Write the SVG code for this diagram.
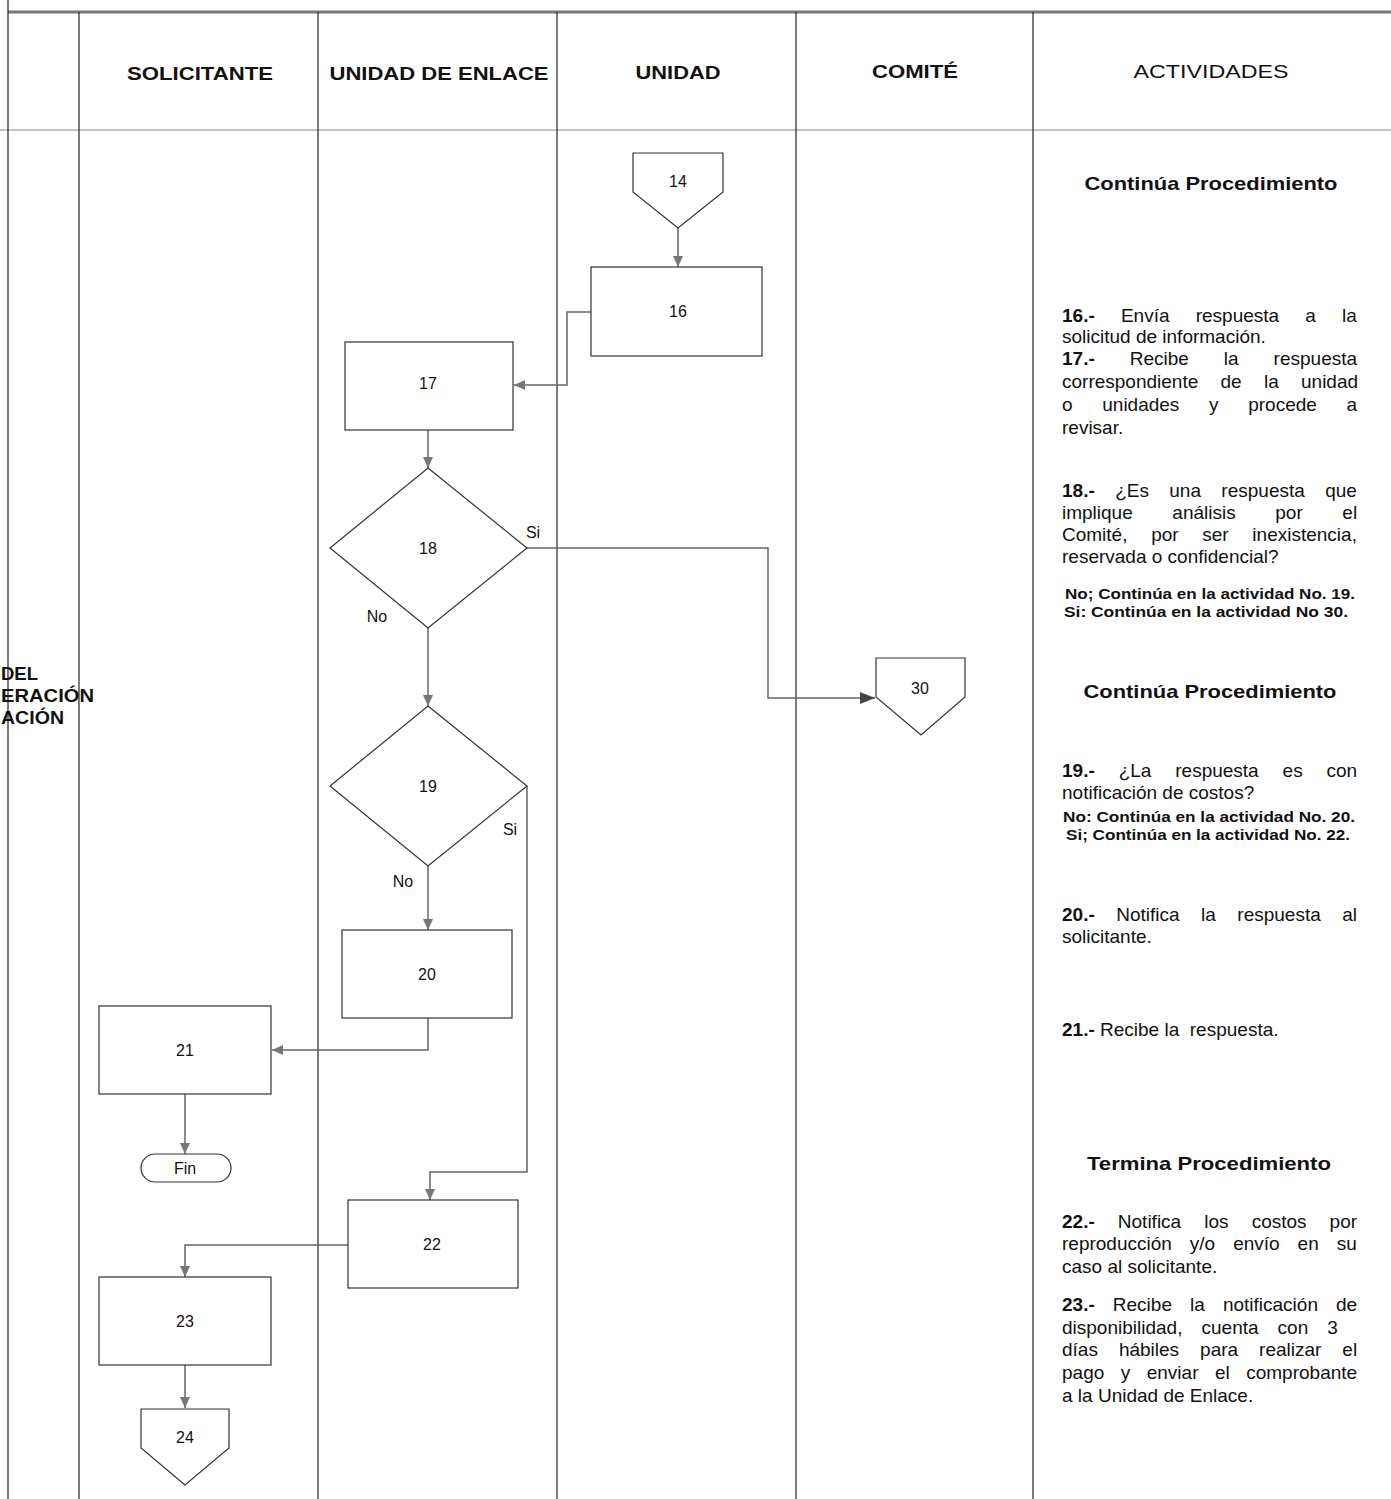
<svg xmlns="http://www.w3.org/2000/svg" width="1391" height="1499" viewBox="0 0 1391 1499">
<defs>
<style>
.lane{stroke:#222;stroke-width:1.2;fill:none}
.box{fill:#fff;stroke:#333;stroke-width:1.2}
.conn{fill:none;stroke:#666;stroke-width:1.5}
.t{font-family:"Liberation Sans",Arial,sans-serif;fill:#111}
.hdr{font-size:18px;font-weight:bold;text-anchor:middle}
.lbl{font-size:16px;text-anchor:middle}
.act{font-size:19px}
.b{font-weight:bold}
.note{font-size:14.5px;font-weight:bold;text-anchor:middle}
.ttl{font-size:19px;font-weight:bold;text-anchor:middle}
</style>
<marker id="arr" markerUnits="userSpaceOnUse" markerWidth="12" markerHeight="10" refX="11" refY="5" orient="auto">
<path d="M0,0 L11,5 L0,10 z" fill="#777"/>
</marker>
<marker id="arrD" markerUnits="userSpaceOnUse" markerWidth="16" markerHeight="12" refX="15" refY="6" orient="auto">
<path d="M0,0 L15,6 L0,12 z" fill="#444"/>
</marker>
</defs>
<rect width="1391" height="1499" fill="#fff"/>

<g id="grid">
<line x1="8" y1="12" x2="1391" y2="12" stroke="#777" stroke-width="3"/>
<line x1="0" y1="130" x2="1391" y2="130" stroke="#888" stroke-width="1.2"/>
<line class="lane" x1="8" y1="0" x2="8" y2="1499" stroke="#555"/>
<line class="lane" x1="79" y1="12" x2="79" y2="1499"/>
<line class="lane" x1="318" y1="12" x2="318" y2="1499"/>
<line class="lane" x1="557" y1="12" x2="557" y2="1499"/>
<line class="lane" x1="796" y1="12" x2="796" y2="1499"/>
<line class="lane" x1="1033" y1="12" x2="1033" y2="1499"/>
</g>

<g id="headers">
<text class="t hdr" x="200" y="80" textLength="146" lengthAdjust="spacingAndGlyphs">SOLICITANTE</text>
<text class="t hdr" x="439" y="80" textLength="219" lengthAdjust="spacingAndGlyphs">UNIDAD DE ENLACE</text>
<text class="t hdr" x="678" y="79" textLength="85" lengthAdjust="spacingAndGlyphs">UNIDAD</text>
<text class="t hdr" x="915" y="78" textLength="86" lengthAdjust="spacingAndGlyphs">COMITÉ</text>
<text class="t hdr" x="1211" y="78" style="font-weight:normal" textLength="155" lengthAdjust="spacingAndGlyphs">ACTIVIDADES</text>
</g>

<g id="side-text">
<text class="t b" x="1" y="680" font-size="18" textLength="37" lengthAdjust="spacingAndGlyphs">DEL</text>
<text class="t b" x="1" y="702" font-size="18" textLength="93" lengthAdjust="spacingAndGlyphs">ERACIÓN</text>
<text class="t b" x="1" y="724" font-size="18" textLength="63" lengthAdjust="spacingAndGlyphs">ACIÓN</text>
</g>

<g id="connectors">
<line class="conn" x1="678" y1="228" x2="678" y2="267" marker-end="url(#arr)"/>
<polyline class="conn" points="591,312 567,312 567,385 514,385" marker-end="url(#arr)"/>
<line class="conn" x1="428" y1="430" x2="428" y2="468" marker-end="url(#arr)"/>
<polyline class="conn" points="527,548 768,548 768,698 875,698" marker-end="url(#arrD)"/>
<line class="conn" x1="428" y1="628" x2="428" y2="706" marker-end="url(#arr)"/>
<polyline class="conn" points="527,786 527,1172 430,1172 430,1200" marker-end="url(#arr)"/>
<line class="conn" x1="428" y1="866" x2="428" y2="930" marker-end="url(#arr)"/>
<polyline class="conn" points="428,1018 428,1050 272,1050" marker-end="url(#arr)"/>
<line class="conn" x1="185" y1="1094" x2="185" y2="1154" marker-end="url(#arr)"/>
<polyline class="conn" points="348,1245 185,1245 185,1277" marker-end="url(#arr)"/>
<line class="conn" x1="185" y1="1365" x2="185" y2="1408" marker-end="url(#arr)"/>
<text class="t lbl" x="533" y="538">Si</text>
<text class="t lbl" x="377" y="622">No</text>
<text class="t lbl" x="510" y="835">Si</text>
<text class="t lbl" x="403" y="887">No</text>
</g>

<g id="n14">
<polygon class="box" points="633,153 723,153 723,192 678,228 633,192"/>
<text class="t lbl" x="678" y="187">14</text>
</g>
<g id="n16">
<rect class="box" x="591" y="267" width="171" height="89"/>
<text class="t lbl" x="678" y="317">16</text>
</g>
<g id="n17">
<rect class="box" x="345" y="342" width="168" height="88"/>
<text class="t lbl" x="428" y="389">17</text>
</g>
<g id="n18">
<polygon class="box" points="428,468 527,548 428,628 330,548"/>
<text class="t lbl" x="428" y="554">18</text>
</g>
<g id="n30">
<polygon class="box" points="876,658 965,658 965,697 921,735 876,697"/>
<text class="t lbl" x="920" y="694">30</text>
</g>
<g id="n19">
<polygon class="box" points="428,706 527,786 428,866 330,786"/>
<text class="t lbl" x="428" y="792">19</text>
</g>
<g id="n20">
<rect class="box" x="342" y="930" width="170" height="88"/>
<text class="t lbl" x="427" y="980">20</text>
</g>
<g id="n21">
<rect class="box" x="99" y="1006" width="172" height="88"/>
<text class="t lbl" x="185" y="1056">21</text>
</g>
<g id="fin">
<rect class="box" x="141" y="1154" width="90" height="28" rx="14"/>
<text class="t lbl" x="185" y="1174">Fin</text>
</g>
<g id="n22">
<rect class="box" x="348" y="1200" width="170" height="88"/>
<text class="t lbl" x="432" y="1250">22</text>
</g>
<g id="n23">
<rect class="box" x="99" y="1277" width="172" height="88"/>
<text class="t lbl" x="185" y="1327">23</text>
</g>
<g id="n24">
<polygon class="box" points="141,1409 229,1409 229,1448 185,1485 141,1448"/>
<text class="t lbl" x="185" y="1443">24</text>
</g>

<g id="activities">
<text class="t ttl" x="1211" y="190" textLength="253" lengthAdjust="spacingAndGlyphs">Continúa Procedimiento</text>
<text class="t act" x="1062" y="322" word-spacing="20.9"><tspan class="b">16.-</tspan> Envía respuesta a la</text>
<text class="t act" x="1062" y="343">solicitud de información.</text>
<text class="t act" x="1062" y="365" word-spacing="29.7"><tspan class="b">17.-</tspan> Recibe la respuesta</text>
<text class="t act" x="1062" y="388" word-spacing="17.0">correspondiente de la unidad</text>
<text class="t act" x="1062" y="411" word-spacing="24.4">o unidades y procede a</text>
<text class="t act" x="1062" y="434">revisar.</text>
<text class="t act" x="1062" y="497" word-spacing="15.1"><tspan class="b">18.-</tspan> ¿Es una respuesta que</text>
<text class="t act" x="1062" y="519" word-spacing="34.3">implique análisis por el</text>
<text class="t act" x="1062" y="541" word-spacing="18.4">Comité, por ser inexistencia,</text>
<text class="t act" x="1062" y="563">reservada o confidencial?</text>
<text class="t note" x="1210" y="599" textLength="290" lengthAdjust="spacingAndGlyphs">No; Continúa en la actividad No. 19.</text>
<text class="t note" x="1206" y="617" textLength="284" lengthAdjust="spacingAndGlyphs">Si: Continúa en la actividad No 30.</text>
<text class="t ttl" x="1210" y="698" textLength="253" lengthAdjust="spacingAndGlyphs">Continúa Procedimiento</text>
<text class="t act" x="1062" y="777" word-spacing="18.6"><tspan class="b">19.-</tspan> ¿La respuesta es con</text>
<text class="t act" x="1062" y="799">notificación de costos?</text>
<text class="t note" x="1209" y="822" textLength="292" lengthAdjust="spacingAndGlyphs">No: Continúa en la actividad No. 20.</text>
<text class="t note" x="1208" y="840" textLength="284" lengthAdjust="spacingAndGlyphs">Si; Continúa en la actividad No. 22.</text>
<text class="t act" x="1062" y="921" word-spacing="16.2"><tspan class="b">20.-</tspan> Notifica la respuesta al</text>
<text class="t act" x="1062" y="943">solicitante.</text>
<text class="t act" x="1062" y="1036" xml:space="preserve"><tspan class="b">21.-</tspan> Recibe la  respuesta.</text>
<text class="t ttl" x="1209" y="1170" textLength="244" lengthAdjust="spacingAndGlyphs">Termina Procedimiento</text>
<text class="t act" x="1062" y="1228" word-spacing="17.8"><tspan class="b">22.-</tspan> Notifica los costos por</text>
<text class="t act" x="1062" y="1250" word-spacing="12.7">reproducción y/o envío en su</text>
<text class="t act" x="1062" y="1273">caso al solicitante.</text>
<text class="t act" x="1062" y="1311" word-spacing="12.8"><tspan class="b">23.-</tspan> Recibe la notificación de</text>
<text class="t act" x="1062" y="1334" word-spacing="13.8">disponibilidad, cuenta con 3</text>
<text class="t act" x="1062" y="1356" word-spacing="15.7">días hábiles para realizar el</text>
<text class="t act" x="1062" y="1379" word-spacing="11.2">pago y enviar el comprobante</text>
<text class="t act" x="1062" y="1402">a la Unidad de Enlace.</text>
</g>
</svg>
